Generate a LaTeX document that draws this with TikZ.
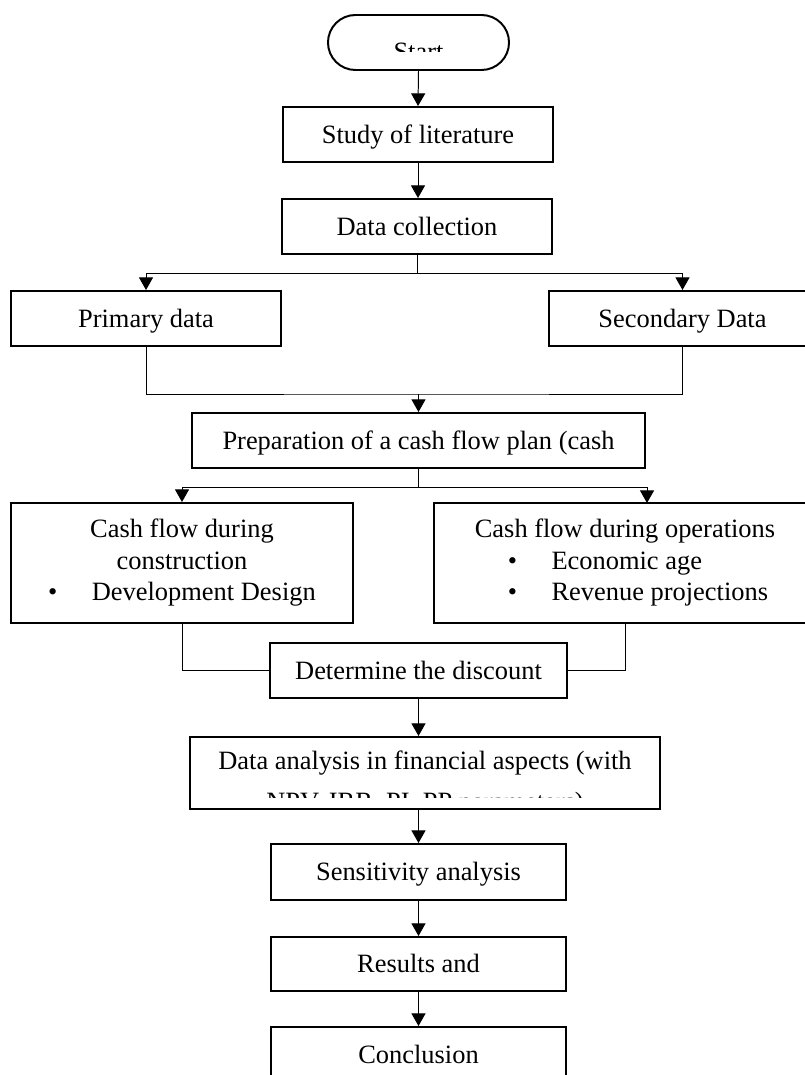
\documentclass[tikz,border=0pt]{standalone}
\usepackage{fontspec}
\setmainfont{Liberation Serif}
\usetikzlibrary{arrows.meta}

\begin{document}
\begin{tikzpicture}[x=0.025cm,y=-0.025cm,
        caja/.style={draw,line width=1.4pt,inner sep=0pt,minimum height=1.375cm,
            font=\fontsize{18.8}{22.4}\selectfont,text height=12.4pt,text depth=0pt},
        cajagrande/.style={draw,line width=1.4pt,inner sep=0pt,minimum height=3cm,
            font=\fontsize{18.8}{22.4}\selectfont},
        texto/.style={inner sep=0pt,anchor=base,font=\fontsize{18.8}{22.4}\selectfont},
        linea/.style={line width=0.7pt},
        flecha/.style={line width=0.7pt,-{Triangle[width=10pt,length=9pt]}}]
        % Fija el marco de la figura.
        \useasboundingbox (0,0) rectangle (804,1075);

        % Dibuja el inicio (la palabra queda recortada).
        \node[caja,minimum width=4.525cm,rounded corners=0.6875cm] (inicio) at (418.5,42.5) {};
        \begin{scope}
            \clip (330,15) rectangle (508,52);
            \node[texto] (inicio-txt) at (418.5,60.5) {Start};
        \end{scope}

        % Dibuja las cajas del tronco principal y de las ramas.
        \node[caja,minimum width=6.75cm] (literatura) at (418,134.5) {Study of literature};
        \node[caja,minimum width=6.725cm] (datos) at (417,226.5) {Data collection};
        \node[caja,minimum width=6.75cm] (primarios) at (146,318.5) {Primary data};
        \node[caja,minimum width=6.675cm] (secundarios) at (682.5,318.5) {Secondary Data};
        \node[caja,minimum width=11.325cm] (plan) at (418.5,440.5) {Preparation of a cash flow plan (cash};
        \node[cajagrande,minimum width=8.55cm,align=center] (construccion) at (182,563)
            {Cash flow during\\construction\\•\hspace{1.3em}Development Design};
        \node[cajagrande,minimum width=9.55cm,align=left] (operacion) at (625,563)
            {Cash flow during operations\\\hspace*{1.25em}•\hspace{1.3em}Economic age\\\hspace*{1.25em}•\hspace{1.3em}Revenue projections};
        \node[caja,minimum width=7.425cm] (descuento) at (418.5,670.5) {Determine the discount};

        % Dibuja la caja del análisis (la segunda línea queda recortada).
        \node[caja,minimum width=11.75cm,minimum height=1.8cm] (analisis) at (425,773) {};
        \node[texto] (analisis-txt1) at (425,769) {Data analysis in financial aspects (with};
        \begin{scope}
            \clip (192,739) rectangle (658,797);
            \node[texto] (analisis-txt2) at (425,810) {NPV, IRR, PI, PP parameters)};
        \end{scope}

        % Dibuja las cajas finales.
        \node[caja,minimum width=7.375cm,minimum height=1.4cm] (sensibilidad) at (418.5,872) {Sensitivity analysis};
        \node[caja,minimum width=7.375cm,minimum height=1.35cm] (resultados) at (418.5,964) {Results and};
        \node[caja,minimum width=7.375cm] (conclusion) at (418.5,1054.5) {Conclusion};

        % Une las cajas con flechas y líneas.
        \draw[flecha] (inicio.south) -- (literatura.north);
        \draw[flecha] (literatura.south) -- (literatura.south |- datos.north);
        \draw[linea] (datos.south) -- ++(0,19) coordinate (reparto1);
        \draw[flecha] (reparto1) -| (primarios.north);
        \draw[flecha] (reparto1) -| (secundarios.north);
        \coordinate (junta1) at (418.5,394);
        \draw[linea] (primarios.south) |- (junta1) -| (secundarios.south);
        \draw[flecha] (junta1) -- (plan.north);
        \draw[linea] (plan.south) -- ++(0,18) coordinate (reparto2);
        \draw[flecha] (reparto2) -| (construccion.north);
        \coordinate (entrada-op) at (647,503);
        \draw[flecha] (reparto2) -| (entrada-op);
        \draw[linea] (construccion.south) |- (descuento.west);
        \draw[linea] (operacion.south) |- (descuento.east);
        \draw[flecha] (descuento.south) -- (descuento.south |- analisis.north);
        \draw[flecha] (sensibilidad.north |- analisis.south) -- (sensibilidad.north);
        \draw[flecha] (sensibilidad) -- (resultados);
        \draw[flecha] (resultados) -- (conclusion);
    \end{tikzpicture}
\end{document}
